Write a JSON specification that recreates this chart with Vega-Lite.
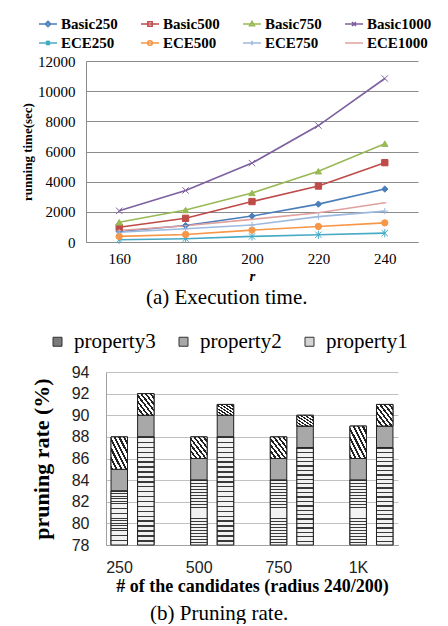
{
  "$schema": "https://vega.github.io/schema/vega-lite/v6.json",
  "background": "white",
  "padding": {"left": 21, "top": 14, "right": 0, "bottom": 0},
  "config": {"view": {"stroke": null}, "font": "Liberation Serif"},
  "spacing": 130,
  "bounds": "flush",
  "center": true,
  "resolve": {
    "scale": {"color": "independent", "fill": "independent", "stroke": "independent", "shape": "independent"},
    "legend": {"color": "independent", "fill": "independent", "shape": "independent", "stroke": "independent"}
  },
  "vconcat": [
    {
      "width": 332,
      "height": 181,
      "title": {"text": "(a) Execution time.", "orient": "bottom", "anchor": "middle", "frame": "bounds", "font": "Liberation Serif", "fontSize": 21, "fontWeight": "normal", "color": "black", "offset": 4},
      "data": {"values": [
        {"series": "Basic250", "r": 160, "time": 700}, {"series": "Basic250", "r": 180, "time": 1090}, {"series": "Basic250", "r": 200, "time": 1720}, {"series": "Basic250", "r": 220, "time": 2510}, {"series": "Basic250", "r": 240, "time": 3510},
        {"series": "Basic500", "r": 160, "time": 980}, {"series": "Basic500", "r": 180, "time": 1570}, {"series": "Basic500", "r": 200, "time": 2680}, {"series": "Basic500", "r": 220, "time": 3710}, {"series": "Basic500", "r": 240, "time": 5260},
        {"series": "Basic750", "r": 160, "time": 1310}, {"series": "Basic750", "r": 180, "time": 2120}, {"series": "Basic750", "r": 200, "time": 3250}, {"series": "Basic750", "r": 220, "time": 4690}, {"series": "Basic750", "r": 240, "time": 6520},
        {"series": "Basic1000", "r": 160, "time": 2070}, {"series": "Basic1000", "r": 180, "time": 3420}, {"series": "Basic1000", "r": 200, "time": 5230}, {"series": "Basic1000", "r": 220, "time": 7720}, {"series": "Basic1000", "r": 240, "time": 10840},
        {"series": "ECE250", "r": 160, "time": 150}, {"series": "ECE250", "r": 180, "time": 220}, {"series": "ECE250", "r": 200, "time": 370}, {"series": "ECE250", "r": 220, "time": 480}, {"series": "ECE250", "r": 240, "time": 590},
        {"series": "ECE500", "r": 160, "time": 370}, {"series": "ECE500", "r": 180, "time": 500}, {"series": "ECE500", "r": 200, "time": 790}, {"series": "ECE500", "r": 220, "time": 1030}, {"series": "ECE500", "r": 240, "time": 1270},
        {"series": "ECE750", "r": 160, "time": 650}, {"series": "ECE750", "r": 180, "time": 880}, {"series": "ECE750", "r": 200, "time": 1130}, {"series": "ECE750", "r": 220, "time": 1680}, {"series": "ECE750", "r": 240, "time": 2050},
        {"series": "ECE1000", "r": 160, "time": 760}, {"series": "ECE1000", "r": 180, "time": 1080}, {"series": "ECE1000", "r": 200, "time": 1500}, {"series": "ECE1000", "r": 220, "time": 1940}, {"series": "ECE1000", "r": 240, "time": 2600}
      ]},
      "encoding": {
        "x": {"field": "r", "type": "ordinal", "scale": {"padding": 0.5},
          "axis": {"title": "r", "titleFont": "Liberation Serif", "titleFontStyle": "italic", "titleFontWeight": "bold", "titleFontSize": 15, "titleColor": "black", "titlePadding": 2, "labelAngle": 0, "labelFont": "Liberation Serif", "labelFontSize": 15, "labelColor": "black", "ticks": false, "labelPadding": 9, "domainColor": "#8c8c8c", "grid": false}},
        "y": {"field": "time", "type": "quantitative", "scale": {"domain": [0, 12000]},
          "axis": {"title": "running time(sec)", "titleFont": "Liberation Serif", "titleFontWeight": "bold", "titleFontSize": 13, "titleColor": "black", "titlePadding": 3, "values": [0, 2000, 4000, 6000, 8000, 10000, 12000], "format": "d", "labelFont": "Liberation Serif", "labelFontSize": 15, "labelColor": "black", "ticks": false, "labelPadding": 11, "domainColor": "#8c8c8c", "gridColor": "#8c8c8c", "gridWidth": 1}},
        "color": {"field": "series", "type": "nominal", "legend": null,
          "scale": {"domain": ["Basic250", "Basic500", "Basic750", "Basic1000", "ECE250", "ECE500", "ECE750", "ECE1000"],
                    "range": ["#4a7ebb", "#be4b48", "#98b954", "#7d60a0", "#46aac5", "#f79646", "#9db9de", "#e0a09f"]}}
      },
      "resolve": {"scale": {"shape": "independent", "stroke": "independent", "fill": "independent"}, "legend": {"shape": "independent", "stroke": "independent", "fill": "independent"}},
      "layer": [
        {"mark": {"type": "line", "strokeWidth": 1.6}},
        {"mark": {"type": "point", "filled": true, "size": 40, "strokeWidth": 1, "opacity": 1},
          "encoding": {
            "shape": {"field": "series", "type": "nominal", "legend": null,
              "scale": {"domain": ["Basic250", "Basic500", "Basic750", "Basic1000", "ECE250", "ECE500", "ECE750", "ECE1000"],
                        "range": ["diamond", "square", "triangle-up", "M-1,-1L1,1M-1,1L1,-1", "M-1,-1L1,1M-1,1L1,-1M0,-1.3L0,1.3", "circle", "M-1,0L1,0M0,-1L0,1", "M-0.6,0L0.6,0"]}},
            "stroke": {"field": "series", "type": "nominal", "legend": null,
              "scale": {"domain": ["Basic250", "Basic500", "Basic750", "Basic1000", "ECE250", "ECE500", "ECE750", "ECE1000"],
                        "range": ["#4a7ebb", "#be4b48", "#98b954", "#7d60a0", "#46aac5", "#f79646", "#9db9de", "#e0a09f"]}}
          }},
        {"mark": {"type": "point", "filled": true, "size": 324, "strokeWidth": 1.5, "opacity": 0},
          "encoding": {
            "shape": {"field": "series", "type": "nominal",
              "scale": {"domain": ["Basic250", "Basic500", "Basic750", "Basic1000", "ECE250", "ECE500", "ECE750", "ECE1000"],
                        "range": ["M-1,0L1,0M0,-0.3L0.3,0L0,0.3L-0.3,0Z", "M-1,0L1,0M-0.24,-0.24L0.24,-0.24L0.24,0.24L-0.24,0.24Z", "M-1,0L1,0M0,-0.3L0.28,0.2L-0.28,0.2Z", "M-1,0L1,0M-0.22,-0.22L0.22,0.22M-0.22,0.22L0.22,-0.22", "M-1,0L1,0M-0.22,-0.22L0.22,0.22M-0.22,0.22L0.22,-0.22M0,-0.28L0,0.28", "M-1,0L1,0M-0.26,0A0.26,0.26 0 1,0 0.26,0A0.26,0.26 0 1,0 -0.26,0Z", "M-1,0L1,0M0,-0.26L0,0.26", "M-1,0L1,0"]},
              "legend": {"title": null, "orient": "none", "legendX": -48, "legendY": -47, "direction": "horizontal", "columns": 4, "gridAlign": "all", "columnPadding": 12, "rowPadding": 1, "labelFont": "Liberation Serif", "labelFontSize": 15, "labelFontWeight": "bold", "labelColor": "black", "labelOffset": 3, "symbolSize": 324, "symbolStrokeWidth": 1.5}},
            "fill": {"field": "series", "type": "nominal",
              "scale": {"domain": ["Basic250", "Basic500", "Basic750", "Basic1000", "ECE250", "ECE500", "ECE750", "ECE1000"],
                        "range": ["#4a7ebb", "#be4b48", "#98b954", "#7d60a0", "#46aac5", "#f79646", "#9db9de", "#e0a09f"]},
              "legend": {"title": null, "orient": "none", "legendX": -48, "legendY": -47, "direction": "horizontal", "columns": 4, "gridAlign": "all", "columnPadding": 12, "rowPadding": 1, "labelFont": "Liberation Serif", "labelFontSize": 15, "labelFontWeight": "bold", "labelColor": "black", "labelOffset": 3, "symbolSize": 324, "symbolStrokeWidth": 1.5}},
            "stroke": {"field": "series", "type": "nominal",
              "scale": {"domain": ["Basic250", "Basic500", "Basic750", "Basic1000", "ECE250", "ECE500", "ECE750", "ECE1000"],
                        "range": ["#4a7ebb", "#be4b48", "#98b954", "#7d60a0", "#46aac5", "#f79646", "#9db9de", "#e0a09f"]},
              "legend": {"title": null, "orient": "none", "legendX": -48, "legendY": -47, "direction": "horizontal", "columns": 4, "gridAlign": "all", "columnPadding": 12, "rowPadding": 1, "labelFont": "Liberation Serif", "labelFontSize": 15, "labelFontWeight": "bold", "labelColor": "black", "labelOffset": 3, "symbolSize": 324, "symbolStrokeWidth": 1.5}}
          }}
      ]
    },
    {
      "width": 292,
      "height": 173,
      "title": {"text": "(b) Pruning rate.", "orient": "bottom", "anchor": "middle", "frame": "bounds", "font": "Liberation Serif", "fontSize": 21, "fontWeight": "normal", "color": "black", "offset": 8},
      "data": {"values": [
        {"cand": "250", "radius": "240", "prop": "property1", "value": 83}, {"cand": "250", "radius": "240", "prop": "property2", "value": 2}, {"cand": "250", "radius": "240", "prop": "property3", "value": 3},
        {"cand": "250", "radius": "200", "prop": "property1", "value": 88}, {"cand": "250", "radius": "200", "prop": "property2", "value": 2}, {"cand": "250", "radius": "200", "prop": "property3", "value": 2},
        {"cand": "500", "radius": "240", "prop": "property1", "value": 84}, {"cand": "500", "radius": "240", "prop": "property2", "value": 2}, {"cand": "500", "radius": "240", "prop": "property3", "value": 2},
        {"cand": "500", "radius": "200", "prop": "property1", "value": 88}, {"cand": "500", "radius": "200", "prop": "property2", "value": 2}, {"cand": "500", "radius": "200", "prop": "property3", "value": 1},
        {"cand": "750", "radius": "240", "prop": "property1", "value": 84}, {"cand": "750", "radius": "240", "prop": "property2", "value": 2}, {"cand": "750", "radius": "240", "prop": "property3", "value": 2},
        {"cand": "750", "radius": "200", "prop": "property1", "value": 87}, {"cand": "750", "radius": "200", "prop": "property2", "value": 2}, {"cand": "750", "radius": "200", "prop": "property3", "value": 1},
        {"cand": "1K", "radius": "240", "prop": "property1", "value": 84}, {"cand": "1K", "radius": "240", "prop": "property2", "value": 2}, {"cand": "1K", "radius": "240", "prop": "property3", "value": 3},
        {"cand": "1K", "radius": "200", "prop": "property1", "value": 87}, {"cand": "1K", "radius": "200", "prop": "property2", "value": 2}, {"cand": "1K", "radius": "200", "prop": "property3", "value": 2}
      ]},
      "transform": [{"stack": "value", "groupby": ["cand", "radius"], "sort": [{"field": "prop", "order": "ascending"}], "as": ["v0", "v1"]}],
      "encoding": {
        "x": {"field": "cand", "type": "nominal", "sort": ["250", "500", "750", "1K"], "scale": {"paddingInner": 0.3333, "paddingOuter": 0},
          "axis": {"title": "# of the candidates (radius 240/200)", "titleFont": "Liberation Serif", "titleFontWeight": "bold", "titleFontSize": 18, "titleColor": "black", "titlePadding": 2, "labelAngle": 0, "labelFont": "Liberation Sans", "labelFontSize": 16, "labelColor": "#222", "labelOffset": -13, "ticks": false, "labelPadding": 14, "domainColor": "#a0a0a0"}},
        "xOffset": {"field": "radius", "type": "nominal", "sort": ["240", "200"], "scale": {"paddingInner": 0.38, "paddingOuter": 0.19}},
        "y": {"field": "v1", "type": "quantitative", "scale": {"domain": [78, 94], "zero": false},
          "axis": {"title": "pruning rate (%)", "titleFont": "Liberation Serif", "titleFontWeight": "bold", "titleFontSize": 22, "titleColor": "black", "titlePadding": 18, "values": [78, 80, 82, 84, 86, 88, 90, 92, 94], "labelFont": "Liberation Sans", "labelFontSize": 16, "labelColor": "#222", "ticks": false, "labelPadding": 17, "domainColor": "#a0a0a0", "gridColor": "#c0c0c0"}},
        "y2": {"field": "v0"}
      },
      "layer": [
        {"mark": {"type": "bar", "clip": true, "stroke": "#222", "strokeWidth": 1},
          "encoding": {"fill": {"field": "prop", "type": "nominal",
            "scale": {"domain": ["property3", "property2", "property1"], "range": ["#7a7a7a", "#a8a8a8", "#d4d4d4"]},
            "legend": {"title": null, "orient": "none", "legendX": -59, "legendY": -41, "direction": "horizontal", "symbolType": "square", "symbolSize": 81, "symbolStrokeColor": "#333", "symbolStrokeWidth": 1, "labelFont": "Liberation Serif", "labelFontSize": 21, "labelColor": "black", "labelOffset": 6, "columnPadding": 17}}}},
        {"transform": [{"filter": "datum.prop === 'property1'"}],
          "mark": {"type": "bar", "stroke": "#222", "strokeWidth": 1,
            "fill": {"gradient": "linear", "x1": 0, "y1": 0, "x2": 0, "y2": 1, "stops": [
              {"offset": 0, "color": "#3a3a3a"}, {"offset": 0.0136, "color": "#3a3a3a"}, {"offset": 0.0136, "color": "#f2f2f2"}, {"offset": 0.0455, "color": "#f2f2f2"},
              {"offset": 0.0455, "color": "#3a3a3a"}, {"offset": 0.0591, "color": "#3a3a3a"}, {"offset": 0.0591, "color": "#f2f2f2"}, {"offset": 0.0909, "color": "#f2f2f2"},
              {"offset": 0.0909, "color": "#3a3a3a"}, {"offset": 0.1045, "color": "#3a3a3a"}, {"offset": 0.1045, "color": "#f2f2f2"}, {"offset": 0.1364, "color": "#f2f2f2"},
              {"offset": 0.1364, "color": "#3a3a3a"}, {"offset": 0.15, "color": "#3a3a3a"}, {"offset": 0.15, "color": "#f2f2f2"}, {"offset": 0.1818, "color": "#f2f2f2"},
              {"offset": 0.1818, "color": "#3a3a3a"}, {"offset": 0.1955, "color": "#3a3a3a"}, {"offset": 0.1955, "color": "#f2f2f2"}, {"offset": 0.2273, "color": "#f2f2f2"},
              {"offset": 0.2273, "color": "#3a3a3a"}, {"offset": 0.2409, "color": "#3a3a3a"}, {"offset": 0.2409, "color": "#f2f2f2"}, {"offset": 0.2727, "color": "#f2f2f2"},
              {"offset": 0.2727, "color": "#3a3a3a"}, {"offset": 0.2864, "color": "#3a3a3a"}, {"offset": 0.2864, "color": "#f2f2f2"}, {"offset": 0.3182, "color": "#f2f2f2"},
              {"offset": 0.3182, "color": "#3a3a3a"}, {"offset": 0.3318, "color": "#3a3a3a"}, {"offset": 0.3318, "color": "#f2f2f2"}, {"offset": 0.3636, "color": "#f2f2f2"},
              {"offset": 0.3636, "color": "#3a3a3a"}, {"offset": 0.3773, "color": "#3a3a3a"}, {"offset": 0.3773, "color": "#f2f2f2"}, {"offset": 0.4091, "color": "#f2f2f2"},
              {"offset": 0.4091, "color": "#3a3a3a"}, {"offset": 0.4227, "color": "#3a3a3a"}, {"offset": 0.4227, "color": "#f2f2f2"}, {"offset": 0.4545, "color": "#f2f2f2"},
              {"offset": 0.4545, "color": "#3a3a3a"}, {"offset": 0.4682, "color": "#3a3a3a"}, {"offset": 0.4682, "color": "#f2f2f2"}, {"offset": 0.5, "color": "#f2f2f2"},
              {"offset": 0.5, "color": "#3a3a3a"}, {"offset": 0.5136, "color": "#3a3a3a"}, {"offset": 0.5136, "color": "#f2f2f2"}, {"offset": 0.5455, "color": "#f2f2f2"},
              {"offset": 0.5455, "color": "#3a3a3a"}, {"offset": 0.5591, "color": "#3a3a3a"}, {"offset": 0.5591, "color": "#f2f2f2"}, {"offset": 0.5909, "color": "#f2f2f2"},
              {"offset": 0.5909, "color": "#3a3a3a"}, {"offset": 0.6045, "color": "#3a3a3a"}, {"offset": 0.6045, "color": "#f2f2f2"}, {"offset": 0.6364, "color": "#f2f2f2"},
              {"offset": 0.6364, "color": "#3a3a3a"}, {"offset": 0.65, "color": "#3a3a3a"}, {"offset": 0.65, "color": "#f2f2f2"}, {"offset": 0.6818, "color": "#f2f2f2"},
              {"offset": 0.6818, "color": "#3a3a3a"}, {"offset": 0.6955, "color": "#3a3a3a"}, {"offset": 0.6955, "color": "#f2f2f2"}, {"offset": 0.7273, "color": "#f2f2f2"},
              {"offset": 0.7273, "color": "#3a3a3a"}, {"offset": 0.7409, "color": "#3a3a3a"}, {"offset": 0.7409, "color": "#f2f2f2"}, {"offset": 0.7727, "color": "#f2f2f2"},
              {"offset": 0.7727, "color": "#3a3a3a"}, {"offset": 0.7864, "color": "#3a3a3a"}, {"offset": 0.7864, "color": "#f2f2f2"}, {"offset": 0.8182, "color": "#f2f2f2"},
              {"offset": 0.8182, "color": "#3a3a3a"}, {"offset": 0.8318, "color": "#3a3a3a"}, {"offset": 0.8318, "color": "#f2f2f2"}, {"offset": 0.8636, "color": "#f2f2f2"},
              {"offset": 0.8636, "color": "#3a3a3a"}, {"offset": 0.8773, "color": "#3a3a3a"}, {"offset": 0.8773, "color": "#f2f2f2"}, {"offset": 0.9091, "color": "#f2f2f2"},
              {"offset": 0.9091, "color": "#3a3a3a"}, {"offset": 0.9227, "color": "#3a3a3a"}, {"offset": 0.9227, "color": "#f2f2f2"}, {"offset": 0.9545, "color": "#f2f2f2"},
              {"offset": 0.9545, "color": "#3a3a3a"}, {"offset": 0.9682, "color": "#3a3a3a"}, {"offset": 0.9682, "color": "#f2f2f2"}, {"offset": 1, "color": "#f2f2f2"}
            ]}},
          "encoding": {"y2": {"datum": 78}}},
        {"transform": [{"filter": "datum.prop === 'property3'"}],
          "mark": {"type": "bar", "stroke": "#222", "strokeWidth": 1,
            "fill": {"gradient": "linear", "x1": 0, "y1": 1, "x2": 1, "y2": 0, "stops": [
              {"offset": 0, "color": "#222222"}, {"offset": 0.0643, "color": "#222222"}, {"offset": 0.0643, "color": "#ffffff"}, {"offset": 0.1429, "color": "#ffffff"},
              {"offset": 0.1429, "color": "#222222"}, {"offset": 0.2071, "color": "#222222"}, {"offset": 0.2071, "color": "#ffffff"}, {"offset": 0.2857, "color": "#ffffff"},
              {"offset": 0.2857, "color": "#222222"}, {"offset": 0.35, "color": "#222222"}, {"offset": 0.35, "color": "#ffffff"}, {"offset": 0.4286, "color": "#ffffff"},
              {"offset": 0.4286, "color": "#222222"}, {"offset": 0.4929, "color": "#222222"}, {"offset": 0.4929, "color": "#ffffff"}, {"offset": 0.5714, "color": "#ffffff"},
              {"offset": 0.5714, "color": "#222222"}, {"offset": 0.6357, "color": "#222222"}, {"offset": 0.6357, "color": "#ffffff"}, {"offset": 0.7143, "color": "#ffffff"},
              {"offset": 0.7143, "color": "#222222"}, {"offset": 0.7786, "color": "#222222"}, {"offset": 0.7786, "color": "#ffffff"}, {"offset": 0.8571, "color": "#ffffff"},
              {"offset": 0.8571, "color": "#222222"}, {"offset": 0.9214, "color": "#222222"}, {"offset": 0.9214, "color": "#ffffff"}, {"offset": 1, "color": "#ffffff"}
            ]}}}
      ]
    }
  ]
}
